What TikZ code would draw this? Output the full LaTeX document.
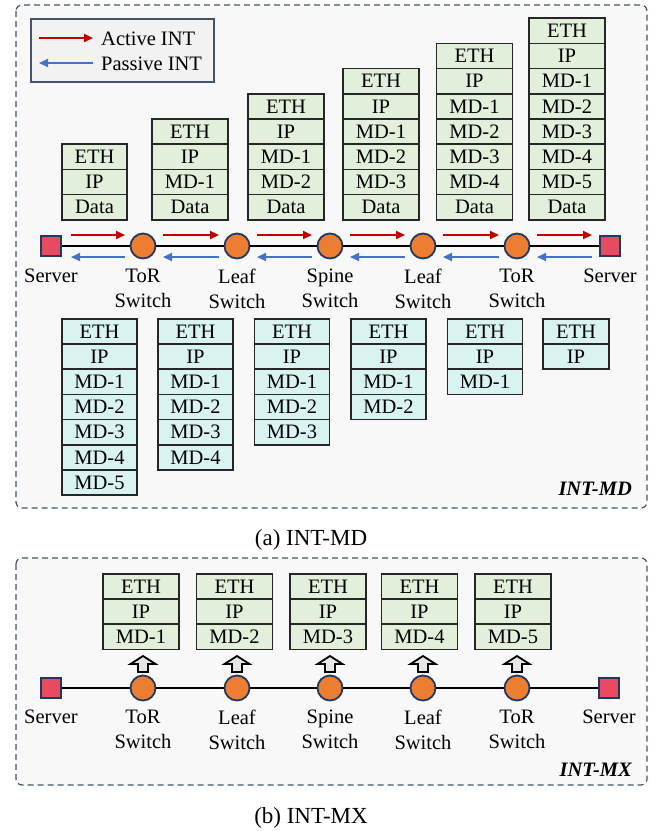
\documentclass[tikz,border=0pt]{standalone}
\usepackage{fontspec}
\setmainfont{Liberation Serif}
\usetikzlibrary{arrows.meta,calc}
\definecolor{greenc}{HTML}{E2EFDA}
\definecolor{cyanc}{HTML}{D9F3F0}
\definecolor{srvc}{HTML}{E84A5F}
\definecolor{swc}{HTML}{ED7D31}
\definecolor{navyc}{HTML}{1F3864}
\definecolor{slatec}{HTML}{44546A}
\definecolor{panelc}{HTML}{F8F8F8}
\definecolor{legc}{HTML}{F2F2F2}
\definecolor{redc}{HTML}{C00000}
\definecolor{bluec}{HTML}{4472C4}
\definecolor{hollowc}{HTML}{E7E6E6}
\tikzset{
  x=1pt, y=-1pt,
  txt/.style={font=\fontsize{20.5}{25}\selectfont},
  cell/.style={txt, draw=black!85, line width=1.6pt, minimum height=25.2pt, inner sep=0pt},
  gcell/.style={cell, fill=greenc, minimum width=76pt},
  gcellnarrow/.style={cell, fill=greenc, minimum width=65pt},
  ccell/.style={cell, fill=cyanc, minimum width=75pt},
  ccellnarrow/.style={cell, fill=cyanc, minimum width=66pt},
  panel/.style={draw=slatec, fill=panelc, line width=1.2pt, dash pattern=on 6pt off 4pt, rounded corners=6pt},
  srv/.style={draw=navyc, fill=srvc, line width=1.8pt, minimum size=20pt, inner sep=0pt, rectangle},
  sw/.style={draw=navyc, fill=swc, line width=1.8pt, minimum size=25pt, inner sep=0pt, circle},
  link/.style={draw=black, line width=2pt},
  lbl/.style={txt, align=center, anchor=north, inner sep=0pt},
  redarr/.style={draw=redc, line width=2pt, -{Triangle[length=9pt,width=8pt]}},
  bluearr/.style={draw=bluec, line width=2pt, -{Triangle[length=9pt,width=8pt]}},
  hollow/.style={draw=black, fill=hollowc, line width=1.8pt, line join=miter},
  paneltag/.style={font=\fontsize{20.5}{25}\selectfont\bfseries\itshape, anchor=base east, inner sep=0pt},
  captext/.style={font=\fontsize{23}{27}\selectfont, anchor=base, inner sep=0pt},
}
\newcommand\pstack[5]{%
  \foreach \lbltxt [count=\i] in {#5}{%
    \node[#4, anchor=north] (#1-\i) at (#2, {#3+(\i-1)*25.2}) {\lbltxt};
  }}
\begin{document}
\begin{tikzpicture}
\useasboundingbox (0,0) rectangle (656,831);
% ---------------- Panel (a)
\draw[panel] (16,5) rectangle (647,508);
% legend
\draw[draw=slatec, fill=legc, line width=1.4pt] (31,19) rectangle (214,82);
\coordinate (lr0) at (39,38); \coordinate (lr1) at (93,38);
\coordinate (lb0) at (93,63); \coordinate (lb1) at (39,63);
\draw[redarr] (lr0) -- (lr1);
\draw[bluearr] (lb0) -- (lb1);
\node[txt, anchor=base west, inner sep=0pt] (legA) at (101,45) {Active INT};
\node[txt, anchor=base west, inner sep=0pt] (legP) at (101,70) {Passive INT};
% top stacks
\pstack{t1}{94.5}{143.4}{gcellnarrow}{ETH,IP,Data}
\pstack{t2}{190}{118.2}{gcell}{ETH,IP,MD-1,Data}
\pstack{t3}{286}{93}{gcell}{ETH,IP,MD-1,MD-2,Data}
\pstack{t4}{381}{67.8}{gcell}{ETH,IP,MD-1,MD-2,MD-3,Data}
\pstack{t5}{474.5}{42.6}{gcell}{ETH,IP,MD-1,MD-2,MD-3,MD-4,Data}
\pstack{t6}{567}{17.4}{gcell}{ETH,IP,MD-1,MD-2,MD-3,MD-4,MD-5,Data}
% node line
\node[srv] (a0) at (51,246) {};
\node[sw]  (a1) at (143,246) {};
\node[sw]  (a2) at (237,246) {};
\node[sw]  (a3) at (330,246) {};
\node[sw]  (a4) at (423,246) {};
\node[sw]  (a5) at (517,246) {};
\node[srv] (a6) at (610,246) {};
\draw[link] (a0) -- (a1) -- (a2) -- (a3) -- (a4) -- (a5) -- (a6);
\foreach \p/\q in {a0/a1,a1/a2,a2/a3,a3/a4,a4/a5,a5/a6}{
  \draw[redarr] ($(\p.center)+(20,-11)$) -- ($(\q.center)+(-18,-11)$);
  \draw[bluearr] ($(\q.center)+(-18,11)$) -- ($(\p.center)+(20,11)$);
}
\node[lbl] (la0) at (51,269) {Server};
\node[lbl] (la1) at (143,269) {ToR\\Switch};
\node[lbl] (la2) at (237,269) {Leaf\\Switch};
\node[lbl] (la3) at (330,269) {Spine\\Switch};
\node[lbl] (la4) at (423,269) {Leaf\\Switch};
\node[lbl] (la5) at (517,269) {ToR\\Switch};
\node[lbl] (la6) at (610,269) {Server};
% bottom stacks
\pstack{b1}{99.5}{318}{ccell}{ETH,IP,MD-1,MD-2,MD-3,MD-4,MD-5}
\pstack{b2}{195.5}{318}{ccell}{ETH,IP,MD-1,MD-2,MD-3,MD-4}
\pstack{b3}{292}{318}{ccell}{ETH,IP,MD-1,MD-2,MD-3}
\pstack{b4}{388.5}{318}{ccell}{ETH,IP,MD-1,MD-2}
\pstack{b5}{485}{318}{ccell}{ETH,IP,MD-1}
\pstack{b6}{576}{318}{ccellnarrow}{ETH,IP}
\node[paneltag] (tagA) at (632,495) {INT-MD};
\node[captext] (capA) at (311,545) {(a) INT-MD};
% ---------------- Panel (b)
\draw[panel] (16,558) rectangle (647,785);
\pstack{m1}{141}{573}{gcell}{ETH,IP,MD-1}
\pstack{m2}{234.5}{573}{gcell}{ETH,IP,MD-2}
\pstack{m3}{328}{573}{gcell}{ETH,IP,MD-3}
\pstack{m4}{419.5}{573}{gcell}{ETH,IP,MD-4}
\pstack{m5}{513}{573}{gcell}{ETH,IP,MD-5}
\node[srv] (c0) at (51,688) {};
\node[sw]  (c1) at (143,688) {};
\node[sw]  (c2) at (237,688) {};
\node[sw]  (c3) at (330,688) {};
\node[sw]  (c4) at (423,688) {};
\node[sw]  (c5) at (517,688) {};
\node[srv] (c6) at (609,688) {};
\draw[link] (c0) -- (c1) -- (c2) -- (c3) -- (c4) -- (c5) -- (c6);
\foreach \n in {c1,c2,c3,c4,c5}{
  \draw[hollow] ($(\n.center)+(-5,-16)$) -- ++(10,0) -- ++(0,-8) -- ++(7.5,0)
     -- ++(-12.5,-8) -- ++(-12.5,8) -- ++(7.5,0) -- cycle;
}
\node[lbl] (lc0) at (51,710) {Server};
\node[lbl] (lc1) at (143,710) {ToR\\Switch};
\node[lbl] (lc2) at (237,710) {Leaf\\Switch};
\node[lbl] (lc3) at (330,710) {Spine\\Switch};
\node[lbl] (lc4) at (423,710) {Leaf\\Switch};
\node[lbl] (lc5) at (517,710) {ToR\\Switch};
\node[lbl] (lc6) at (609,710) {Server};
\node[paneltag] (tagB) at (632,776) {INT-MX};
\node[captext] (capB) at (311,823) {(b) INT-MX};
\end{tikzpicture}
\end{document}
